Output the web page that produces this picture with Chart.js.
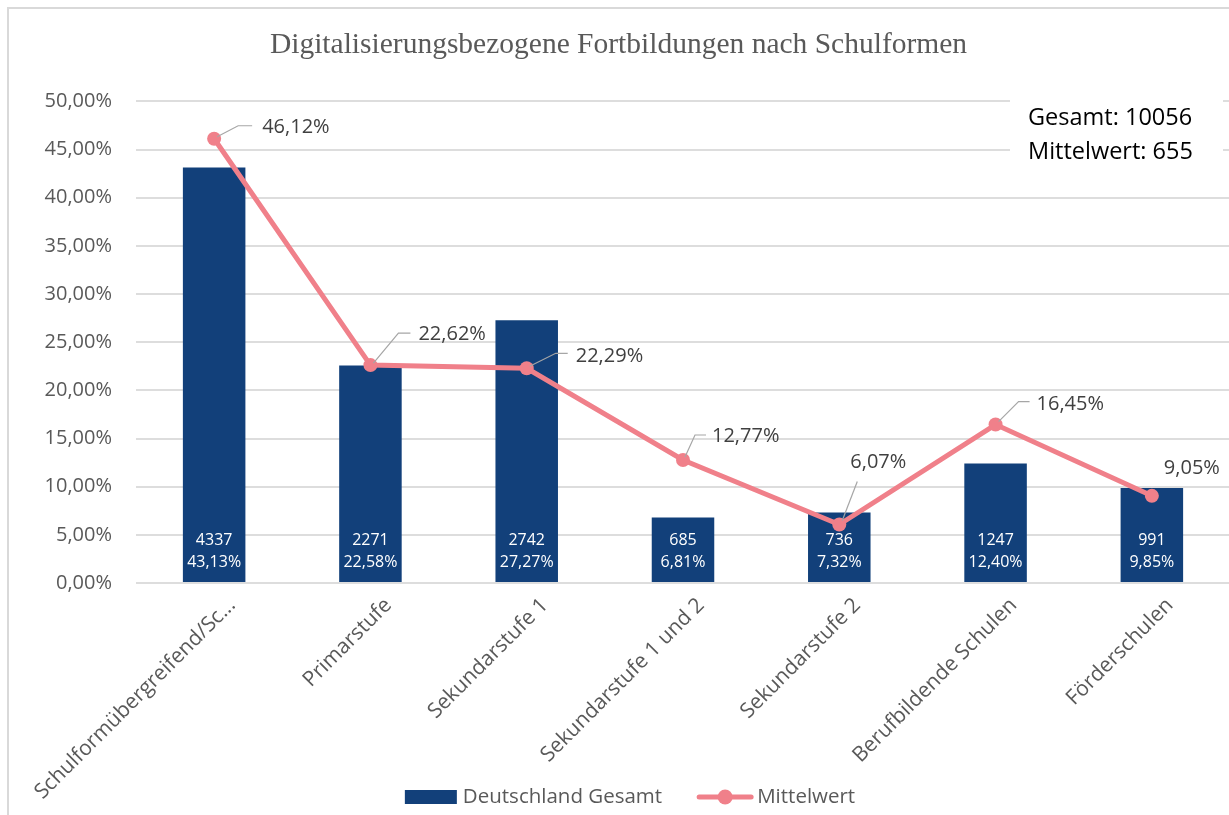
<!DOCTYPE html>
<html><head><meta charset="utf-8">
<script src="https://cdn.jsdelivr.net/npm/chart.js@4.4.1/dist/chart.umd.min.js"></script>
<style>
html,body{margin:0;padding:0;background:#fff;overflow:hidden;width:1229px;height:815px;}
#wrap{position:relative;width:1229px;height:815px;overflow:hidden;background:#fff;}
#c{position:absolute;left:0;top:0;}
#frame{position:absolute;left:7px;top:7px;width:1400px;height:1000px;border:2px solid #D9D9D9;pointer-events:none;}
</style></head><body>
<div id="wrap"><canvas id="c" width="1237" height="815"></canvas><div id="frame"></div></div>
<script>
// ---- data ----
const categories = ['Schulformübergreifend/Sc...', 'Primarstufe', 'Sekundarstufe 1', 'Sekundarstufe 1 und 2', 'Sekundarstufe 2', 'Berufbildende Schulen', 'Förderschulen'];
const deutschlandCounts = [4337, 2271, 2742, 685, 736, 1247, 991];
const deutschlandPercent = [43.13, 22.58, 27.27, 6.81, 7.32, 12.40, 9.85];
const mittelwertPercent = [46.12, 22.62, 22.29, 12.77, 6.07, 16.45, 9.05];
const yTicks = [0, 5, 10, 15, 20, 25, 30, 35, 40, 45, 50];
const gesamtTotal = 10056;
const mittelwertValue = 655;
const chartTitle = 'Digitalisierungsbezogene Fortbildungen nach Schulformen';
const seriesNames = ['Deutschland Gesamt', 'Mittelwert'];

// ---- styles ----
const BAR_COLOR = '#12407A';
const LINE_COLOR = '#F0808A';
const TEXT_GRAY = '#595959';
const LABEL_GRAY = '#404040';
const FONT = "'Open Sans', sans-serif";

const fmtPct = v => v.toFixed(2).replace('.', ',') + '%';

// label placement for line values (offsets from the point, in px)
const lineLabelLayout = [
  { label: [48, -11], leader: [[3, -2], [24, -13], [38, -13]] },
  { label: [48, -31], leader: [[3, -2], [28, -32], [40, -32]] },
  { label: [49, -12], leader: [[3, -2], [29, -15], [41, -15]] },
  { label: [29, -24], leader: [[2, -3], [12, -25], [23, -25]] },
  { label: [11, -62], leader: [[3, -4], [18, -43]] },
  { label: [41, -20], leader: [[3, -3], [23, -23], [34, -23]] },
  { label: [12, -28], leader: null }
];

const barLabelPlugin = {
  id: 'barLabels',
  afterDatasetDraw(chart, args) {
    if (args.index !== 1) return;
    const ctx = chart.ctx;
    const meta = chart.getDatasetMeta(1);
    const bottom = chart.scales.y.getPixelForValue(0);
    ctx.save();
    ctx.fillStyle = '#FFFFFF';
    ctx.font = "16px " + FONT;
    ctx.textAlign = 'center';
    ctx.textBaseline = 'middle';
    meta.data.forEach((bar, i) => {
      ctx.fillText(String(deutschlandCounts[i]), bar.x, bottom - 43);
      ctx.fillText(fmtPct(deutschlandPercent[i]), bar.x, bottom - 21);
    });
    ctx.restore();
  }
};

const lineLabelPlugin = {
  id: 'lineLabels',
  afterDatasetsDraw(chart) {
    const ctx = chart.ctx;
    const meta = chart.getDatasetMeta(0);
    ctx.save();
    meta.data.forEach((pt, i) => {
      const lay = lineLabelLayout[i];
      if (lay.leader) {
        ctx.strokeStyle = '#A6A6A6';
        ctx.lineWidth = 1.2;
        ctx.beginPath();
        lay.leader.forEach((p, k) => {
          if (k === 0) ctx.moveTo(pt.x + p[0], pt.y + p[1]);
          else ctx.lineTo(pt.x + p[0], pt.y + p[1]);
        });
        ctx.stroke();
      }
      ctx.fillStyle = LABEL_GRAY;
      ctx.font = "20px " + FONT;
      ctx.textAlign = 'left';
      ctx.textBaseline = 'middle';
      ctx.fillText(fmtPct(mittelwertPercent[i]), pt.x + lay.label[0], pt.y + lay.label[1]);
    });
    ctx.restore();
  }
};

const infoBoxPlugin = {
  id: 'infoBox',
  afterDraw(chart) {
    const ctx = chart.ctx;
    ctx.save();
    ctx.fillStyle = '#FFFFFF';
    ctx.fillRect(1010, 88, 213, 84);
    ctx.fillStyle = '#000000';
    ctx.font = "23.5px " + FONT;
    ctx.textAlign = 'left';
    ctx.textBaseline = 'middle';
    ctx.fillText('Gesamt: ' + gesamtTotal, 1028, 118);
    ctx.fillText('Mittelwert: ' + mittelwertValue, 1028, 152);
    ctx.restore();
  }
};

// legend drawn at the bottom of the canvas (overlapping the rotated-label zone, as in the original)
const bottomLegendPlugin = {
  id: 'bottomLegend',
  afterDraw(chart) {
    const ctx = chart.ctx;
    const cy = 797;
    const centerX = 630;
    ctx.save();
    ctx.font = "20.5px " + FONT;
    const w0 = ctx.measureText(seriesNames[0]).width;
    const w1 = ctx.measureText(seriesNames[1]).width;
    const total = 52 + 6 + w0 + 35 + 56 + 4 + w1;
    let x = centerX - total / 2;
    // bar swatch
    ctx.fillStyle = BAR_COLOR;
    ctx.fillRect(x, cy - 7, 52, 14);
    x += 52 + 6;
    ctx.fillStyle = TEXT_GRAY;
    ctx.textAlign = 'left';
    ctx.textBaseline = 'middle';
    ctx.fillText(seriesNames[0], x, cy);
    x += w0 + 35;
    // line swatch
    ctx.strokeStyle = LINE_COLOR;
    ctx.lineWidth = 5;
    ctx.lineCap = 'round';
    ctx.beginPath(); ctx.moveTo(x + 2, cy); ctx.lineTo(x + 54, cy); ctx.stroke();
    ctx.fillStyle = LINE_COLOR;
    ctx.beginPath(); ctx.arc(x + 28, cy, 7.5, 0, Math.PI * 2); ctx.fill();
    x += 56 + 4;
    ctx.fillStyle = TEXT_GRAY;
    ctx.fillText(seriesNames[1], x, cy);
    ctx.restore();
  }
};

new Chart(document.getElementById('c'), {
  type: 'bar',
  data: {
    labels: categories,
    datasets: [
      {
        type: 'line',
        label: seriesNames[1],
        data: mittelwertPercent,
        borderColor: LINE_COLOR,
        backgroundColor: LINE_COLOR,
        borderWidth: 5,
        pointRadius: 7,
        pointHoverRadius: 7,
        pointBackgroundColor: LINE_COLOR,
        pointBorderWidth: 0,
        tension: 0,
        order: 0
      },
      {
        type: 'bar',
        label: seriesNames[0],
        data: deutschlandPercent,
        backgroundColor: BAR_COLOR,
        borderWidth: 0,
        barPercentage: 0.4,
        categoryPercentage: 1.0,
        order: 1
      }
    ]
  },
  options: {
    responsive: false,
    devicePixelRatio: 1,
    animation: false,
    layout: { padding: { left: 0, right: 0, top: 0, bottom: 0 } },
    plugins: {
      title: {
        display: true,
        text: chartTitle,
        color: TEXT_GRAY,
        font: { family: "'Liberation Serif', 'Times New Roman', serif", size: 29.5, weight: 'normal' },
        padding: { top: 28, bottom: 38 }
      },
      legend: { display: false },
      tooltip: { enabled: false }
    },
    scales: {
      x: {
        grid: { display: false },
        border: { display: false },
        ticks: {
          autoSkip: false,
          minRotation: 45,
          maxRotation: 45,
          color: TEXT_GRAY,
          font: { family: FONT, size: 21 },
          padding: 2,
          labelOffset: 18
        },
        afterFit: (s) => { s.height = 815 - 583; }
      },
      y: {
        min: 0,
        max: 50,
        afterBuildTicks: (s) => { s.ticks = yTicks.map(v => ({ value: v })); },
        grid: { color: '#DDDDDD', lineWidth: 2, drawTicks: false },
        border: { display: false },
        ticks: {
          color: TEXT_GRAY,
          font: { family: FONT, size: 20 },
          padding: 24,
          callback: (v) => fmtPct(v)
        },
        afterFit: (s) => { s.width = 136; }
      }
    }
  },
  plugins: [barLabelPlugin, lineLabelPlugin, infoBoxPlugin, bottomLegendPlugin]
});
</script>
</body></html>
